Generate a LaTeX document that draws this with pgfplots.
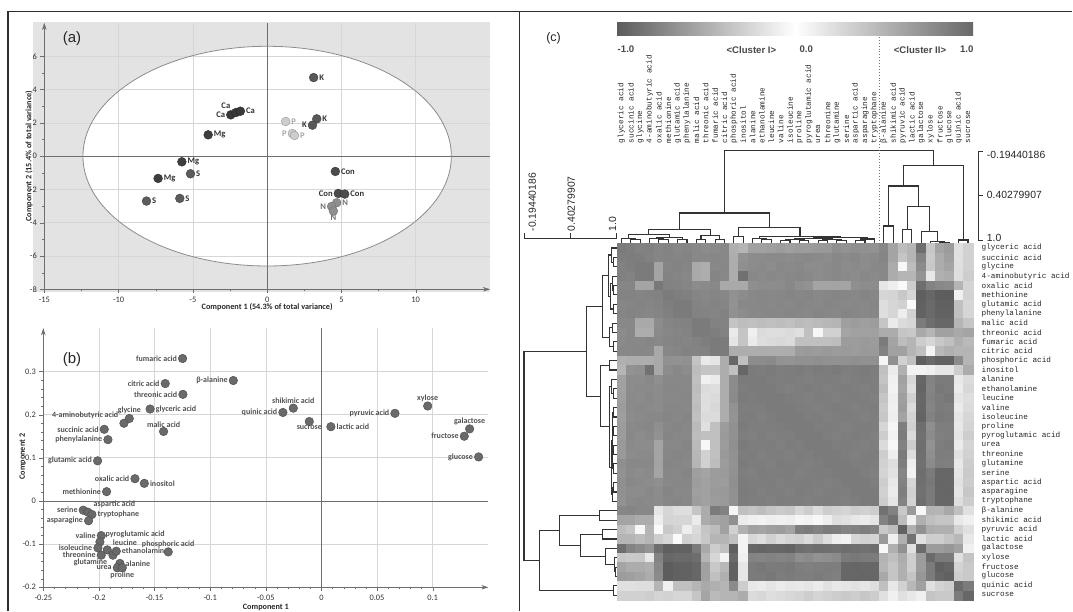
\documentclass[border=0pt]{standalone}
\usepackage{pgfplots}
\pgfplotsset{compat=1.18}
\usepackage{pgfplotstable}
\usetikzlibrary{arrows.meta}
\usepackage{fontspec}
\setmainfont{Liberation Sans}
\newfontfamily\carlito{Carlito}
\newfontfamily\monof{Liberation Mono}

\definecolor{frameC}{HTML}{2E2E2E}
\definecolor{bgA}{HTML}{E3E3E3}
\definecolor{gridC}{HTML}{D6D6D6}
\definecolor{axC}{HTML}{6E6E6E}
\definecolor{ptCa}{HTML}{383838}
\definecolor{ptMg}{HTML}{3E3E3E}
\definecolor{ptS}{HTML}{5C5C5C}
\definecolor{ptK}{HTML}{585858}
\definecolor{ptCon}{HTML}{4C4C4C}
\definecolor{ptN}{HTML}{8E8E8E}
\definecolor{ptP}{HTML}{CDCDCD}
\definecolor{ptB}{HTML}{6A6A6A}
\definecolor{cbL}{HTML}{5C5C5C}
\definecolor{cbR}{HTML}{686868}

\pgfplotsset{
  lab/.style={only marks, mark=*, nodes near coords, point meta=explicit symbolic,
    visualization depends on={value \thisrow{a} \as \anc},
    every node near coord/.append style={anchor=\anc, inner xsep=5.5pt, inner ysep=4pt}},
  pca/.style={scale only axis, clip=false,
    axis lines=left,
    axis line style={draw=axC, -{Stealth[length=7pt,width=4.5pt]}},
    tick align=outside, major tick length=4pt, minor tick length=2.2pt,
    tick style={axC}, grid=major, major grid style={gridC, line width=0.6pt},
    tick label style={font=\carlito\fontsize{8.4}{9}\selectfont, text=black!80},
    /pgf/number format/assume math mode=true,
    label style={font=\carlito\bfseries\fontsize{8.2}{9}\selectfont, text=black!85}},
}

\pgfplotstableread[header=false]{
0.80 0.78 0.76 0.77 0.74 0.75 0.73 0.74 0.72 0.70 0.71 0.72 0.48 0.45 0.57 0.57 0.58 0.60 0.58 0.60 0.60 0.62 0.62 0.68 0.66 0.68 0.67 0.66 -0.73 -0.55 -0.40 -0.45 -0.88 -0.34 -0.55 -0.60 -0.19 -0.28
0.78 0.79 0.78 0.76 0.74 0.75 0.74 0.75 0.72 0.72 0.73 0.72 0.50 0.66 0.70 0.70 0.71 0.71 0.70 0.71 0.72 0.71 0.70 0.72 0.71 0.72 0.70 0.71 -0.74 -0.55 -0.35 -0.45 -0.75 -0.32 -0.50 -0.58 -0.19 -0.28
0.76 0.78 0.80 0.80 0.55 0.74 0.75 0.74 0.52 0.50 0.72 0.73 0.50 0.68 0.70 0.71 0.70 0.72 0.71 0.72 0.70 0.70 0.71 0.72 0.70 0.71 0.70 0.72 -0.72 -0.50 -0.05 -0.40 -0.70 -0.33 -0.50 -0.55 -0.20 -0.28
0.77 0.76 0.80 0.80 0.55 0.75 0.74 0.73 0.52 0.50 0.74 0.72 0.50 0.86 0.72 0.71 0.72 0.71 0.72 0.73 0.72 0.70 0.71 0.72 0.71 0.70 0.72 0.71 -0.72 -0.50 -0.45 -0.45 -0.65 -0.14 -0.48 -0.50 -0.20 -0.30
0.74 0.74 0.55 0.55 0.82 0.76 0.75 0.74 0.70 0.71 0.72 0.52 0.52 0.52 0.68 0.70 0.70 0.70 0.72 0.68 0.66 0.55 0.55 0.56 0.55 0.68 0.70 0.70 -0.15 -0.10 -0.03 -0.30 -0.88 -0.75 -0.72 -0.70 -0.45 -0.26
0.75 0.75 0.74 0.75 0.76 0.80 0.78 0.77 0.74 0.73 0.74 0.73 0.67 0.70 0.72 0.73 0.72 0.73 0.74 0.73 0.74 0.72 0.73 0.74 0.73 0.72 0.74 0.73 -0.25 -0.26 -0.33 -0.25 -0.97 -0.92 -0.98 -0.98 -0.09 -0.27
0.73 0.74 0.75 0.74 0.75 0.78 0.80 0.80 0.75 0.74 0.75 0.74 0.66 0.72 0.72 0.73 0.72 0.73 0.72 0.74 0.73 0.72 0.74 0.73 0.72 0.73 0.72 0.74 -0.20 -0.25 -0.28 -0.03 -0.96 -0.90 -0.96 -0.96 -0.38 -0.25
0.74 0.75 0.74 0.73 0.74 0.77 0.80 0.80 0.76 0.75 0.74 0.76 0.67 0.70 0.72 0.72 0.73 0.72 0.74 0.73 0.72 0.74 0.73 0.72 0.74 0.73 0.72 0.73 -0.20 -0.25 -0.10 -0.28 -0.95 -0.90 -0.95 -0.95 -0.38 -0.25
0.72 0.72 0.52 0.52 0.70 0.74 0.75 0.76 0.80 0.80 0.76 0.75 0.36 0.40 0.38 0.40 0.38 0.40 0.38 0.42 0.40 0.42 0.44 0.45 0.58 0.60 0.58 0.60 -0.35 -0.12 -0.22 -0.25 -0.80 -0.88 -0.92 -0.92 -0.45 -0.35
0.70 0.72 0.50 0.50 0.71 0.73 0.74 0.75 0.80 0.80 0.78 0.76 0.13 0.35 0.09 0.22 0.20 0.20 0.22 0.19 0.38 0.05 0.28 0.28 0.55 0.57 0.57 0.57 -0.50 -0.50 -0.35 -0.33 -0.52 -0.45 -0.57 -0.57 -0.52 -0.55
0.71 0.73 0.72 0.74 0.72 0.74 0.75 0.74 0.76 0.78 0.80 0.80 0.16 0.35 0.12 0.20 0.22 0.24 0.22 0.38 0.38 0.38 0.38 0.40 0.60 0.60 0.61 0.60 -0.80 -0.55 -0.40 -0.45 -0.30 -0.25 -0.33 -0.38 -0.48 -0.42
0.72 0.72 0.73 0.72 0.52 0.73 0.74 0.76 0.75 0.76 0.80 0.80 0.50 0.50 0.50 0.50 0.50 0.50 0.50 0.60 0.61 0.60 0.62 0.60 0.61 0.60 0.62 0.61 -0.76 -0.57 -0.57 -0.45 -0.38 -0.07 -0.43 -0.48 -0.45 -0.45
0.48 0.50 0.50 0.50 0.52 0.67 0.66 0.67 0.36 0.13 0.16 0.50 0.92 0.38 0.70 0.70 0.71 0.66 0.65 0.67 0.67 0.68 0.67 0.66 0.67 0.68 0.67 0.67 -0.06 -0.67 -0.28 -0.38 -0.97 -0.90 -0.96 -0.96 -0.70 -0.45
0.45 0.66 0.68 0.86 0.52 0.70 0.72 0.70 0.40 0.35 0.35 0.50 0.38 0.92 0.80 0.79 0.80 0.78 0.79 0.80 0.78 0.80 0.79 0.80 0.78 0.79 0.80 0.79 -0.38 -0.12 -0.48 -0.07 -0.07 -0.09 -0.15 -0.15 -0.30 -0.50
0.57 0.70 0.70 0.72 0.68 0.72 0.72 0.72 0.38 0.09 0.12 0.50 0.70 0.80 0.80 0.80 0.79 0.78 0.79 0.78 0.77 0.78 0.79 0.78 0.77 0.78 0.79 0.78 -0.36 -0.09 -0.57 -0.24 -0.93 -0.75 -0.80 -0.80 -0.14 -0.22
0.57 0.70 0.71 0.71 0.70 0.73 0.73 0.72 0.40 0.22 0.20 0.50 0.70 0.79 0.80 0.80 0.80 0.78 0.77 0.78 0.79 0.78 0.77 0.78 0.79 0.78 0.77 0.78 -0.40 -0.08 -0.55 -0.20 -0.94 -0.74 -0.82 -0.80 -0.12 -0.24
0.58 0.71 0.70 0.72 0.70 0.72 0.72 0.73 0.38 0.20 0.22 0.50 0.71 0.80 0.79 0.80 0.80 0.80 0.79 0.78 0.77 0.79 0.78 0.77 0.78 0.79 0.78 0.77 -0.35 -0.10 -0.58 -0.28 -0.92 -0.76 -0.80 -0.82 -0.16 -0.20
0.60 0.71 0.72 0.71 0.70 0.73 0.73 0.72 0.40 0.20 0.24 0.50 0.66 0.78 0.78 0.78 0.80 0.80 0.80 0.79 0.78 0.77 0.78 0.79 0.78 0.77 0.78 0.79 -0.32 -0.09 -0.60 -0.22 -0.93 -0.74 -0.80 -0.79 -0.12 -0.22
0.58 0.70 0.71 0.72 0.72 0.74 0.72 0.74 0.38 0.22 0.22 0.50 0.65 0.79 0.79 0.77 0.79 0.80 0.80 0.80 0.78 0.79 0.77 0.78 0.79 0.78 0.77 0.78 -0.34 -0.10 -0.56 -0.26 -0.94 -0.76 -0.81 -0.80 -0.15 -0.24
0.60 0.71 0.72 0.73 0.68 0.73 0.74 0.73 0.42 0.19 0.38 0.60 0.67 0.80 0.78 0.78 0.78 0.79 0.80 0.80 0.80 0.78 0.79 0.78 0.77 0.78 0.79 0.78 -0.25 -0.06 -0.78 -0.28 -0.88 -0.68 -0.78 -0.78 -0.14 -0.26
0.60 0.72 0.70 0.72 0.66 0.74 0.73 0.72 0.40 0.38 0.38 0.61 0.67 0.78 0.77 0.79 0.77 0.78 0.78 0.80 0.80 0.80 0.78 0.77 0.78 0.79 0.78 0.77 -0.30 -0.08 -0.80 -0.22 -0.86 -0.70 -0.77 -0.78 -0.16 -0.30
0.62 0.71 0.70 0.70 0.55 0.72 0.72 0.74 0.42 0.05 0.38 0.60 0.68 0.80 0.78 0.78 0.79 0.77 0.79 0.78 0.80 0.80 0.80 0.78 0.79 0.78 0.77 0.78 -0.22 -0.05 -0.76 -0.30 -0.88 -0.66 -0.78 -0.80 -0.12 -0.26
0.62 0.70 0.71 0.71 0.55 0.73 0.74 0.73 0.44 0.28 0.38 0.62 0.67 0.79 0.79 0.77 0.78 0.78 0.77 0.79 0.78 0.80 0.80 0.80 0.78 0.77 0.78 0.79 -0.30 -0.10 -0.80 -0.20 -0.87 -0.68 -0.79 -0.78 -0.18 -0.28
0.68 0.72 0.72 0.72 0.56 0.74 0.73 0.72 0.45 0.28 0.40 0.60 0.66 0.80 0.78 0.78 0.77 0.79 0.78 0.78 0.77 0.78 0.80 0.80 0.80 0.78 0.79 0.78 -0.28 -0.20 -0.78 -0.10 -0.86 -0.70 -0.78 -0.77 -0.14 -0.30
0.66 0.71 0.70 0.71 0.55 0.73 0.72 0.74 0.58 0.55 0.60 0.61 0.67 0.78 0.77 0.79 0.78 0.78 0.79 0.77 0.78 0.79 0.78 0.80 0.80 0.80 0.78 0.77 -0.26 -0.18 -0.74 -0.08 -0.88 -0.80 -0.92 -0.92 -0.16 -0.32
0.68 0.72 0.71 0.70 0.68 0.72 0.73 0.73 0.60 0.57 0.60 0.60 0.68 0.79 0.78 0.78 0.79 0.77 0.78 0.78 0.79 0.78 0.77 0.78 0.80 0.80 0.80 0.78 -0.30 -0.14 -0.76 -0.25 -0.87 -0.82 -0.93 -0.92 -0.18 -0.30
0.67 0.70 0.70 0.72 0.70 0.74 0.72 0.72 0.58 0.57 0.61 0.62 0.67 0.80 0.79 0.77 0.78 0.78 0.77 0.79 0.78 0.77 0.78 0.79 0.78 0.80 0.80 0.80 -0.28 -0.12 -0.78 -0.28 -0.86 -0.80 -0.92 -0.93 -0.16 -0.34
0.66 0.71 0.72 0.71 0.70 0.73 0.74 0.73 0.60 0.57 0.60 0.61 0.67 0.79 0.78 0.78 0.77 0.79 0.78 0.78 0.77 0.78 0.79 0.78 0.77 0.78 0.80 0.80 -0.30 -0.16 -0.75 -0.26 -0.88 -0.80 -0.92 -0.92 -0.20 -0.30
-0.73 -0.74 -0.72 -0.72 -0.15 -0.25 -0.20 -0.20 -0.35 -0.50 -0.80 -0.76 -0.06 -0.38 -0.36 -0.40 -0.35 -0.32 -0.34 -0.25 -0.30 -0.22 -0.30 -0.28 -0.26 -0.30 -0.28 -0.30 0.86 0.76 0.33 0.61 0.04 0.46 0.45 0.53 0.38 0.19
-0.55 -0.55 -0.50 -0.50 -0.10 -0.26 -0.25 -0.25 -0.12 -0.50 -0.55 -0.57 -0.67 -0.12 -0.09 -0.08 -0.10 -0.09 -0.10 -0.06 -0.08 -0.05 -0.10 -0.20 -0.18 -0.14 -0.12 -0.16 0.76 0.86 0.40 0.09 0.48 0.39 0.35 0.35 0.14 0.09
-0.40 -0.35 -0.05 -0.45 -0.03 -0.33 -0.28 -0.10 -0.22 -0.35 -0.40 -0.57 -0.28 -0.48 -0.57 -0.55 -0.58 -0.60 -0.56 -0.78 -0.80 -0.76 -0.80 -0.78 -0.74 -0.76 -0.78 -0.75 0.33 0.40 0.96 0.48 0.67 0.50 0.48 0.48 0.28 0.19
-0.45 -0.45 -0.40 -0.45 -0.30 -0.25 -0.03 -0.28 -0.25 -0.33 -0.45 -0.45 -0.38 -0.07 -0.24 -0.20 -0.28 -0.22 -0.26 -0.28 -0.22 -0.30 -0.20 -0.10 -0.08 -0.25 -0.28 -0.26 0.61 0.09 0.48 0.86 0.19 0.30 0.30 0.36 0.43 0.14
-0.88 -0.75 -0.70 -0.65 -0.88 -0.97 -0.96 -0.95 -0.80 -0.52 -0.30 -0.38 -0.97 -0.07 -0.93 -0.94 -0.92 -0.93 -0.94 -0.88 -0.86 -0.88 -0.87 -0.86 -0.88 -0.87 -0.86 -0.88 0.04 0.48 0.67 0.19 0.90 0.60 0.60 0.63 0.57 0.09
-0.34 -0.32 -0.33 -0.14 -0.75 -0.92 -0.90 -0.90 -0.88 -0.45 -0.25 -0.07 -0.90 -0.09 -0.75 -0.74 -0.76 -0.74 -0.76 -0.68 -0.70 -0.66 -0.68 -0.70 -0.80 -0.82 -0.80 -0.80 0.46 0.39 0.50 0.30 0.60 0.90 0.80 0.80 0.19 0.36
-0.55 -0.50 -0.50 -0.48 -0.72 -0.98 -0.96 -0.95 -0.92 -0.57 -0.33 -0.43 -0.96 -0.15 -0.80 -0.82 -0.80 -0.80 -0.81 -0.78 -0.77 -0.78 -0.79 -0.78 -0.92 -0.93 -0.92 -0.92 0.45 0.35 0.48 0.30 0.60 0.80 0.96 0.93 0.27 0.33
-0.60 -0.58 -0.55 -0.50 -0.70 -0.98 -0.96 -0.95 -0.92 -0.57 -0.38 -0.48 -0.96 -0.15 -0.80 -0.80 -0.82 -0.79 -0.80 -0.78 -0.78 -0.80 -0.78 -0.77 -0.92 -0.92 -0.93 -0.92 0.53 0.35 0.48 0.36 0.63 0.80 0.93 0.96 0.30 0.33
-0.19 -0.19 -0.20 -0.20 -0.45 -0.09 -0.38 -0.38 -0.45 -0.52 -0.48 -0.45 -0.70 -0.30 -0.14 -0.12 -0.16 -0.12 -0.15 -0.14 -0.16 -0.12 -0.18 -0.14 -0.16 -0.18 -0.16 -0.20 0.38 0.14 0.28 0.43 0.57 0.19 0.27 0.30 0.90 0.80
-0.28 -0.28 -0.28 -0.30 -0.26 -0.27 -0.25 -0.25 -0.35 -0.55 -0.42 -0.45 -0.45 -0.50 -0.22 -0.24 -0.20 -0.22 -0.24 -0.26 -0.30 -0.26 -0.28 -0.30 -0.32 -0.30 -0.34 -0.30 0.19 0.09 0.19 0.14 0.09 0.36 0.33 0.33 0.80 0.92
}\heat

\pgfplotstableread{
p h
28 1
28 0.777
29 0.777
29 1
nan nan
30 1
30 0.819
31 0.819
31 1
nan nan
34 1
34 0.985
35 0.985
35 1
nan nan
33 1
33 0.975
34.5 0.975
34.5 0.985
nan nan
32 1
32 0.85
33.75 0.85
33.75 0.975
nan nan
30.5 0.819
30.5 0.528
32.875 0.528
32.875 0.85
nan nan
28.5 0.777
28.5 0.261
31.6875 0.261
31.6875 0.528
nan nan
36 1
36 0.957
37 0.957
37 1
nan nan
30.09375 0.261
30.09375 0.0
36.5 0.0
36.5 0.957
nan nan
11.0 0.609
11.0 -0.194
33.296875 -0.194
33.296875 0.0
nan nan
1 1
1 0.955
2 0.955
2 1
nan nan
0 1
0 0.935
1.5 0.935
1.5 0.955
nan nan
4 1
4 0.955
5 0.955
5 1
nan nan
3 1
3 0.94
4.5 0.94
4.5 0.955
nan nan
6 1
6 0.955
7 0.955
7 1
nan nan
3.75 0.94
3.75 0.92
6.5 0.92
6.5 0.955
nan nan
0.75 0.935
0.75 0.89
5.125 0.89
5.125 0.92
nan nan
8 1
8 0.95
9 0.95
9 1
nan nan
10 1
10 0.955
11 0.955
11 1
nan nan
8.5 0.95
8.5 0.905
10.5 0.905
10.5 0.955
nan nan
2.9375 0.89
2.9375 0.818
9.5 0.818
9.5 0.905
nan nan
12 1
12 0.91
13 0.91
13 1
nan nan
15 1
15 0.955
16 0.955
16 1
nan nan
14 1
14 0.935
15.5 0.935
15.5 0.955
nan nan
17 1
17 0.96
18 0.96
18 1
nan nan
19 1
19 0.96
20 0.96
20 1
nan nan
17.5 0.96
17.5 0.95
19.5 0.95
19.5 0.96
nan nan
21 1
21 0.96
22 0.96
22 1
nan nan
23 1
23 0.96
24 0.96
24 1
nan nan
21.5 0.96
21.5 0.95
23.5 0.95
23.5 0.96
nan nan
25 1
25 0.96
26 0.96
26 1
nan nan
25.5 0.96
25.5 0.945
27 0.945
27 1
nan nan
18.5 0.95
18.5 0.94
22.5 0.94
22.5 0.95
nan nan
20.5 0.94
20.5 0.93
26.25 0.93
26.25 0.945
nan nan
14.75 0.935
14.75 0.91
23.375 0.91
23.375 0.93
nan nan
12.5 0.91
12.5 0.796
19.0625 0.796
19.0625 0.91
nan nan
6.21875 0.818
6.21875 0.609
15.78125 0.609
15.78125 0.796
}\links

\begin{document}
\begin{tikzpicture}

\begin{scope}[x=1pt,y=1pt]
% ---------- frame ----------
\draw[frameC, line width=1.3pt] (8,0.7) -- (8,600.3) -- (1072.3,600.3);
\draw[frameC, line width=1.1pt] (519.5,0.7) -- (519.5,600.3);
% ---------- panel (a) background ----------
\fill[bgA] (33,320) rectangle (490,590);
\fill[white] (267.15,455.85) ellipse [x radius=184.2, y radius=109.85];
\end{scope}

\begin{axis}[pca, at={(44.3pt,322.7pt)}, anchor=south west, width=445.7pt, height=266.3pt,
  xmin=-15, xmax=15, ymin=-8, ymax=8,
  xtick={-15,-10,-5,0,5,10}, ytick={-8,-6,-4,-2,0,2,4,6},
  minor x tick num=1, minor y tick num=1,
  xlabel={Component 1 (54.3\% of total variance)},
  ylabel={Component 2 (15.4\% of total variance)},
  xlabel style={at={(axis description cs:0.5,-0.068)}, anchor=center},
  ylabel style={at={(axis description cs:-0.0343,0.5)}, anchor=center, rotate=0},
  every node near coord/.append style={font=\carlito\bfseries\fontsize{8.6}{9}\selectfont, text=black!80},
  mark size=4.4pt]
\draw[axC, line width=0.9pt] (axis cs:0,-8) -- (axis cs:0,8);
\draw[axC, line width=0.9pt] (axis cs:-15,0) -- (axis cs:15,0);
\addplot[lab, mark options={fill=ptCa, draw=ptCa!70!black}] table[col sep=comma, meta=l]{
x,y,l,a
-2.45,2.48,Ca,east
-2.10,2.62,Ca,south east
-1.80,2.70,Ca,west
};
\addplot[lab, mark options={fill=ptMg, draw=ptMg!70!black}] table[col sep=comma, meta=l]{
x,y,l,a
-3.97,1.28,Mg,west
-5.74,-0.34,Mg,west
-7.34,-1.34,Mg,west
};
\addplot[lab, mark options={fill=ptS, draw=ptS!70!black}] table[col sep=comma, meta=l]{
x,y,l,a
-5.16,-1.06,S,west
-8.12,-2.70,S,west
-5.88,-2.54,S,west
};
\addplot[lab, mark options={fill=ptK, draw=ptK!70!black}] table[col sep=comma, meta=l]{
x,y,l,a
3.13,4.72,K,west
3.34,2.24,K,west
3.05,1.86,K,east
};
\addplot[lab, mark options={fill=ptP, draw=black!40},
  every node near coord/.append style={text=black!35}] table[col sep=comma, meta=l]{
x,y,l,a
1.25,2.08,P,west
1.70,1.36,P,east
1.84,1.24,P,west
};
\addplot[lab, mark options={fill=ptCon, draw=ptCon!70!black}] table[col sep=comma, meta=l]{
x,y,l,a
4.59,-0.92,Con,west
4.79,-2.24,Con,east
5.22,-2.28,Con,west
};
\addplot[lab, mark options={fill=ptN, draw=black!55},
  every node near coord/.append style={text=black!55}] table[col sep=comma, meta=l]{
x,y,l,a
4.68,-2.80,N,west
4.34,-3.02,N,east
4.46,-3.30,N,north
};
\end{axis}

% ---------- panel (b) ----------
\begin{axis}[pca, at={(43.3pt,24.7pt)}, anchor=south west, width=445pt, height=259pt,
  xmin=-0.25, xmax=0.15, ymin=-0.2, ymax=0.4,
  xtick={-0.25,-0.2,-0.15,-0.1,-0.05,0,0.05,0.1}, ytick={-0.2,-0.1,0,0.1,0.2,0.3},
  minor x tick num=4, minor y tick num=4,
  xticklabel style={/pgf/number format/fixed, /pgf/number format/precision=2},
  yticklabel style={/pgf/number format/fixed, /pgf/number format/precision=2},
  xlabel={Component 1}, ylabel={Component 2},
  xlabel style={at={(axis description cs:0.5,-0.077)}, anchor=center},
  ylabel style={at={(axis description cs:-0.046,0.504)}, anchor=center, rotate=0},
  every node near coord/.append style={font=\carlito\bfseries\fontsize{8}{9}\selectfont, text=black!68},
  mark size=4.3pt]
\draw[axC, line width=0.9pt] (axis cs:0,-0.2) -- (axis cs:0,0.4);
\draw[axC, line width=0.9pt] (axis cs:-0.25,0) -- (axis cs:0.15,0);
\addplot[lab, mark options={fill=ptB, draw=ptB!70!black}] table[col sep=comma, meta=l]{
x,y,l,a
-0.1248,0.330,fumaric acid,east
-0.0792,0.279,β-alanine,east
-0.1404,0.272,citric acid,east
-0.1245,0.247,threonic acid,east
-0.1540,0.213,glyceric acid,west
-0.1727,0.191,glycine,south
-0.1775,0.180,4-aminobutyric acid,south east
-0.1419,0.161,malic acid,south
-0.1952,0.166,succinic acid,east
-0.1919,0.142,phenylalanine,east
-0.2012,0.093,glutamic acid,east
-0.1676,0.0515,oxalic acid,east
-0.1592,0.0408,inositol,west
-0.1931,0.0216,methionine,east
-0.0253,0.215,shikimic acid,south
-0.0346,0.205,quinic acid,east
-0.0109,0.184,sucrose,north
0.0085,0.172,lactic acid,west
0.0661,0.203,pyruvic acid,east
0.0955,0.220,xylose,south
0.1332,0.167,galactose,south
0.1284,0.150,fructose,east
0.1413,0.102,glucose,east
-0.2141,-0.0214,serine,east
-0.2099,-0.0260,aspartic acid,south west
-0.2063,-0.0313,tryptophane,west
-0.2093,-0.0458,asparagine,east
-0.1979,-0.0803,valine,east
-0.1991,-0.0950,pyroglutamic acid,south west
-0.2009,-0.1088,isoleucine,east
-0.1979,-0.1256,threonine,east
-0.1925,-0.1134,leucine,south west
-0.1874,-0.1256,glutamine,north east
-0.1844,-0.1164,ethanolamine,west
-0.1811,-0.1447,alanine,west
-0.1835,-0.1548,urea,east
-0.1790,-0.1548,proline,north
-0.1377,-0.1180,phosphoric acid,south
};
\end{axis}

% heatmap
\begin{axis}[at={(616.7pt,368.7pt)}, anchor=north west, scale only axis, width=356pt, height=356.7pt,
  xmin=-0.5, xmax=37.5, ymin=-0.5, ymax=37.5, y dir=reverse, hide axis,
  colormap={gw}{rgb255=(90,90,90) rgb255=(255,255,255) rgb255=(90,90,90)},
  point meta min=-1, point meta max=1]
\pgfplotsinvokeforeach{0,...,37}{
\addplot[scatter, only marks, mark=square*, mark size=4.75pt, point meta=explicit,
  scatter/use mapped color={draw=mapped color, fill=mapped color},
  mark options={line width=0.1pt}]
  table[x expr=#1, y expr=\coordindex, meta index=#1] \heat;
}
\end{axis}

% top dendrogram
\begin{axis}[at={(616.7pt,368.7pt)}, anchor=south west, scale only axis, width=356pt, height=92.6pt,
  xmin=-0.5, xmax=37.5, ymin=-0.194, ymax=1.0, y dir=reverse, hide axis, clip=false,
  unbounded coords=jump]
\addplot[black!80, line width=1.1pt, no markers] table[x=p, y=h] \links;
\end{axis}

% left dendrogram
\begin{axis}[at={(524pt,368.7pt)}, anchor=north west, scale only axis, width=92.7pt, height=356.7pt,
  xmin=-0.194, xmax=1.0, ymin=-0.5, ymax=37.5, y dir=reverse, hide axis, clip=false,
  unbounded coords=jump]
\addplot[black!80, line width=1.1pt, no markers] table[x=h, y=p] \links;
\end{axis}

\begin{scope}[x=1pt,y=1pt]
\draw[black!45, line width=0.8pt] (267.15,455.85) ellipse [x radius=184.2, y radius=109.85];
\node[font=\fontsize{15}{16}\selectfont, text=black!85] at (72,573.7) {(a)};
\node[font=\fontsize{15}{16}\selectfont, text=black!85] at (72,252) {(b)};
% ---------- panel (c) ----------
\node[font=\fontsize{12.5}{14}\selectfont, text=black!85] at (553.6,573.4) {(c)};
\shade[left color=cbL, right color=cbR, middle color=white] (617,576) rectangle (973,589.3);
\begin{scope}[font=\bfseries\fontsize{9.6}{11}\selectfont, text=black!72]
\node at (626,563) {-1.0};
\node at (751.4,562) {<Cluster I>};
\node at (806.2,563) {0.0};
\node at (920,562) {<Cluster II>};
\node at (966.7,563) {1.0};
\end{scope}
\draw[black!55, dotted, line width=0.9pt] (879.3,575) -- (879.3,368.7);
% scale bars
\draw[black!80, line width=1pt] (982.7,460.3) -- (978.3,460.3) -- (978.3,371.3) -- (982.7,371.3);
\draw[black!80, line width=1pt] (978.3,416.8) -- (982.7,416.8);
\begin{scope}[font=\fontsize{10.4}{12}\selectfont, text=black!85]
\node[anchor=west, inner sep=0pt] at (986.7,457) {-0.19440186};
\node[anchor=west, inner sep=0pt] at (986.7,417) {0.40279907};
\node[anchor=west, inner sep=0pt] at (986.7,373.7) {1.0};
\node[rotate=90, anchor=west, inner sep=0pt] at (532.4,380.5) {-0.19440186};
\node[rotate=90, anchor=west, inner sep=0pt] at (571.2,380.5) {0.40279907};
\node[rotate=90, anchor=west, inner sep=0pt] at (612.6,380.5) {1.0};
\end{scope}
\draw[black!80, line width=1pt] (524,378.7) -- (524,373.7) -- (616.7,373.7) -- (616.7,378.7);
\draw[black!80, line width=1pt] (570.3,373.7) -- (570.3,378.7);
% labels
\begin{scope}[font=\monof\fontsize{7.7}{8}\selectfont, text=black!85]
\foreach \n [count=\i from 0] in {glyceric acid, succinic acid, glycine, 4-aminobutyric acid, oxalic acid, methionine, glutamic acid, phenylalanine, malic acid, threonic acid, fumaric acid, citric acid, phosphoric acid, inositol, alanine, ethanolamine, leucine, valine, isoleucine, proline, pyroglutamic acid, urea, threonine, glutamine, serine, aspartic acid, asparagine, tryptophane, β-alanine, shikimic acid, pyruvic acid, lactic acid, galactose, xylose, fructose, glucose, quinic acid, sucrose}{
  \node[anchor=west, inner sep=0pt] at (981.5,{364.015-9.37*\i}) {\n};
  \node[rotate=90, anchor=west, inner sep=0pt] at ({621.4+9.37*\i},468.7) {\n};
}
\end{scope}
\pgfresetboundingbox
\useasboundingbox (0,0) rectangle (1073,612);
\end{scope}
\end{tikzpicture}
\end{document}
